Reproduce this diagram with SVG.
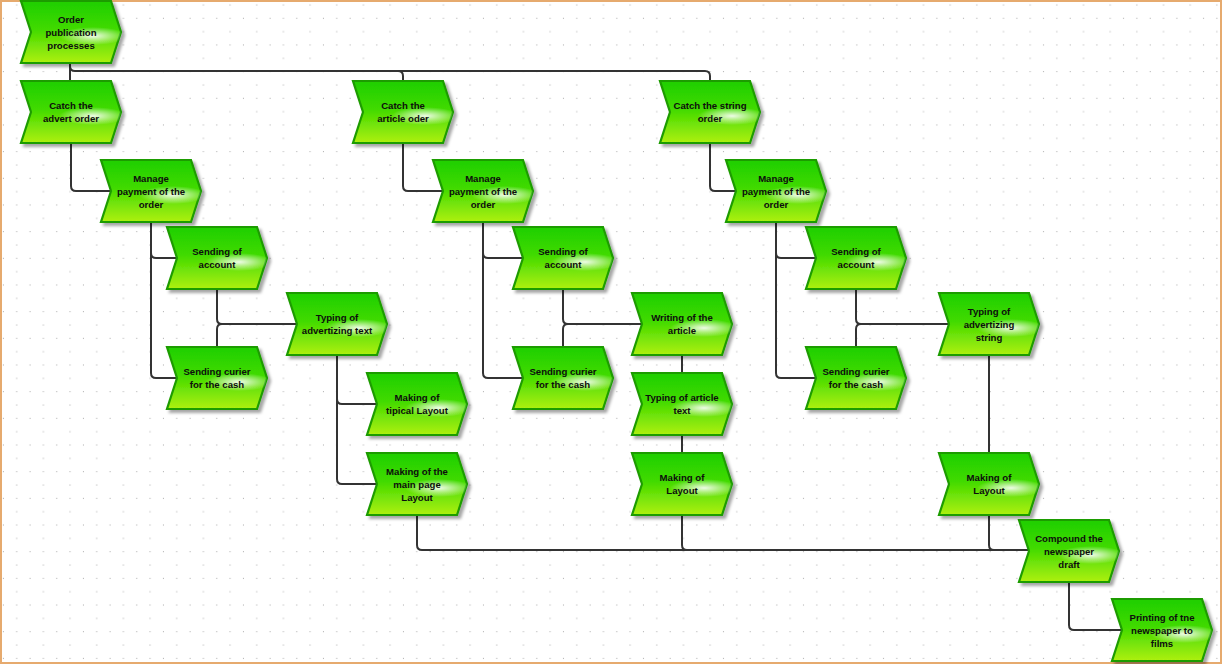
<svg xmlns="http://www.w3.org/2000/svg" xmlns:xlink="http://www.w3.org/1999/xlink" width="1222" height="664" viewBox="0 0 1222 664">
<style>
.shape{fill:url(#gfill);stroke:#1f9c00;stroke-width:2.2;stroke-linejoin:miter;filter:url(#sh)}
.gloss{fill:url(#ggloss)}
.lbl{font-family:"Liberation Sans",Arial,sans-serif;font-weight:bold;font-size:9.6px;fill:#0d0d0d;text-anchor:middle}
.con{fill:none;stroke:#333;stroke-width:2}
</style>
<defs>
<pattern id="grid" patternUnits="userSpaceOnUse" width="26.67" height="26.67">
<rect x="16.2" y="4.5" width="1" height="1" fill="#a8a8a8"/>
<rect x="2.9" y="17.8" width="1" height="1" fill="#a8a8a8"/>
<rect x="16.2" y="17.8" width="1" height="1" fill="#a8a8a8"/>
</pattern>
<linearGradient id="gfill" x1="0" y1="0" x2="0" y2="1">
<stop offset="0" stop-color="#1ecf00"/>
<stop offset="0.45" stop-color="#40da00"/>
<stop offset="1" stop-color="#aef012"/>
</linearGradient>
<radialGradient id="ggloss" cx="0.5" cy="0.5" r="0.5">
<stop offset="0" stop-color="#ffffff" stop-opacity="0.9"/>
<stop offset="0.5" stop-color="#ffffff" stop-opacity="0.45"/>
<stop offset="1" stop-color="#ffffff" stop-opacity="0"/>
</radialGradient>
<filter id="sh" x="-10%" y="-10%" width="130%" height="140%">
<feDropShadow dx="3" dy="3" stdDeviation="1.5" flood-color="#000" flood-opacity="0.35"/>
</filter>
<path id="chev" d="M0,0 H90 L100,31 L90,62 H0 L10,31 Z"/>
<clipPath id="cc"><path d="M0,0 H90 L100,31 L90,62 H0 L10,31 Z"/></clipPath>
</defs>
<rect width="1222" height="664" fill="#ffffff"/>
<rect width="1222" height="664" fill="url(#grid)"/>
<rect x="1" y="1" width="1220" height="662" fill="none" stroke="#e6aa6e" stroke-width="2"/>

<g id="connectors">
<path class="con" d="M70,63 V81"/>
<path class="con" d="M70,63 V66 Q70,71 75,71 H705 Q710,71 710,76 V81"/>
<path class="con" d="M398,71 Q403,71 403,76 V81"/>
<path class="con" d="M71,143 V186 Q71,191 76,191 H111"/>
<path class="con" d="M151,222 V253 Q151,258 156,258 H177"/>
<path class="con" d="M151,253 V373 Q151,378 156,378 H177"/>
<path class="con" d="M217,289 V319 Q217,324 222,324 H297"/>
<path class="con" d="M217,347 V329 Q217,324 222,324"/>
<path class="con" d="M337,355 V399 Q337,404 342,404 H377"/>
<path class="con" d="M337,399 V479 Q337,484 342,484 H377"/>
<path class="con" d="M417,515 V545 Q417,550 422,550 H1029"/>
<path class="con" d="M403,143 V186 Q403,191 408,191 H443"/>
<path class="con" d="M483,222 V253 Q483,258 488,258 H523"/>
<path class="con" d="M483,253 V373 Q483,378 488,378 H523"/>
<path class="con" d="M563,289 V319 Q563,324 568,324 H642"/>
<path class="con" d="M563,347 V329 Q563,324 568,324"/>
<path class="con" d="M682,355 V373"/>
<path class="con" d="M682,435 V453"/>
<path class="con" d="M682,515 V545 Q682,550 687,550"/>
<path class="con" d="M710,143 V186 Q710,191 715,191 H736"/>
<path class="con" d="M776,222 V253 Q776,258 781,258 H816"/>
<path class="con" d="M776,253 V373 Q776,378 781,378 H816"/>
<path class="con" d="M856,289 V319 Q856,324 861,324 H949"/>
<path class="con" d="M856,347 V329 Q856,324 861,324"/>
<path class="con" d="M989,355 V453"/>
<path class="con" d="M989,515 V545 Q989,550 994,550"/>
<path class="con" d="M1069,582 V625 Q1069,630 1074,630 H1122"/>
</g>

<g id="n1" transform="translate(21,1)"><use xlink:href="#chev" class="shape"/><ellipse class="gloss" cx="72" cy="35" rx="34" ry="9" clip-path="url(#cc)"/><text class="lbl"><tspan x="50" y="22">Order</tspan><tspan x="50" y="35">publication</tspan><tspan x="50" y="48">processes</tspan></text></g>
<g id="n2" transform="translate(21,81)"><use xlink:href="#chev" class="shape"/><ellipse class="gloss" cx="72" cy="35" rx="34" ry="9" clip-path="url(#cc)"/><text class="lbl"><tspan x="50" y="28">Catch the</tspan><tspan x="50" y="41">advert order</tspan></text></g>
<g id="n3" transform="translate(353,81)"><use xlink:href="#chev" class="shape"/><ellipse class="gloss" cx="72" cy="35" rx="34" ry="9" clip-path="url(#cc)"/><text class="lbl"><tspan x="50" y="28">Catch the</tspan><tspan x="50" y="41">article oder</tspan></text></g>
<g id="n4" transform="translate(660,81)"><use xlink:href="#chev" class="shape"/><ellipse class="gloss" cx="72" cy="35" rx="34" ry="9" clip-path="url(#cc)"/><text class="lbl"><tspan x="50" y="28">Catch the string</tspan><tspan x="50" y="41">order</tspan></text></g>
<g id="n5" transform="translate(101,160)"><use xlink:href="#chev" class="shape"/><ellipse class="gloss" cx="72" cy="35" rx="34" ry="9" clip-path="url(#cc)"/><text class="lbl"><tspan x="50" y="22">Manage</tspan><tspan x="50" y="35">payment of the</tspan><tspan x="50" y="48">order</tspan></text></g>
<g id="n6" transform="translate(167,227)"><use xlink:href="#chev" class="shape"/><ellipse class="gloss" cx="72" cy="35" rx="34" ry="9" clip-path="url(#cc)"/><text class="lbl"><tspan x="50" y="28">Sending of</tspan><tspan x="50" y="41">account</tspan></text></g>
<g id="n7" transform="translate(167,347)"><use xlink:href="#chev" class="shape"/><ellipse class="gloss" cx="72" cy="35" rx="34" ry="9" clip-path="url(#cc)"/><text class="lbl"><tspan x="50" y="28">Sending curier</tspan><tspan x="50" y="41">for the cash</tspan></text></g>
<g id="n8" transform="translate(287,293)"><use xlink:href="#chev" class="shape"/><ellipse class="gloss" cx="72" cy="35" rx="34" ry="9" clip-path="url(#cc)"/><text class="lbl"><tspan x="50" y="28">Typing of</tspan><tspan x="50" y="41">advertizing text</tspan></text></g>
<g id="n9" transform="translate(367,373)"><use xlink:href="#chev" class="shape"/><ellipse class="gloss" cx="72" cy="35" rx="34" ry="9" clip-path="url(#cc)"/><text class="lbl"><tspan x="50" y="28">Making of</tspan><tspan x="50" y="41">tipical Layout</tspan></text></g>
<g id="n10" transform="translate(367,453)"><use xlink:href="#chev" class="shape"/><ellipse class="gloss" cx="72" cy="35" rx="34" ry="9" clip-path="url(#cc)"/><text class="lbl"><tspan x="50" y="22">Making of the</tspan><tspan x="50" y="35">main page</tspan><tspan x="50" y="48">Layout</tspan></text></g>
<g id="n11" transform="translate(433,160)"><use xlink:href="#chev" class="shape"/><ellipse class="gloss" cx="72" cy="35" rx="34" ry="9" clip-path="url(#cc)"/><text class="lbl"><tspan x="50" y="22">Manage</tspan><tspan x="50" y="35">payment of the</tspan><tspan x="50" y="48">order</tspan></text></g>
<g id="n12" transform="translate(513,227)"><use xlink:href="#chev" class="shape"/><ellipse class="gloss" cx="72" cy="35" rx="34" ry="9" clip-path="url(#cc)"/><text class="lbl"><tspan x="50" y="28">Sending of</tspan><tspan x="50" y="41">account</tspan></text></g>
<g id="n13" transform="translate(513,347)"><use xlink:href="#chev" class="shape"/><ellipse class="gloss" cx="72" cy="35" rx="34" ry="9" clip-path="url(#cc)"/><text class="lbl"><tspan x="50" y="28">Sending curier</tspan><tspan x="50" y="41">for the cash</tspan></text></g>
<g id="n14" transform="translate(632,293)"><use xlink:href="#chev" class="shape"/><ellipse class="gloss" cx="72" cy="35" rx="34" ry="9" clip-path="url(#cc)"/><text class="lbl"><tspan x="50" y="28">Writing of the</tspan><tspan x="50" y="41">article</tspan></text></g>
<g id="n15" transform="translate(632,373)"><use xlink:href="#chev" class="shape"/><ellipse class="gloss" cx="72" cy="35" rx="34" ry="9" clip-path="url(#cc)"/><text class="lbl"><tspan x="50" y="28">Typing of article</tspan><tspan x="50" y="41">text</tspan></text></g>
<g id="n16" transform="translate(632,453)"><use xlink:href="#chev" class="shape"/><ellipse class="gloss" cx="72" cy="35" rx="34" ry="9" clip-path="url(#cc)"/><text class="lbl"><tspan x="50" y="28">Making of</tspan><tspan x="50" y="41">Layout</tspan></text></g>
<g id="n17" transform="translate(726,160)"><use xlink:href="#chev" class="shape"/><ellipse class="gloss" cx="72" cy="35" rx="34" ry="9" clip-path="url(#cc)"/><text class="lbl"><tspan x="50" y="22">Manage</tspan><tspan x="50" y="35">payment of the</tspan><tspan x="50" y="48">order</tspan></text></g>
<g id="n18" transform="translate(806,227)"><use xlink:href="#chev" class="shape"/><ellipse class="gloss" cx="72" cy="35" rx="34" ry="9" clip-path="url(#cc)"/><text class="lbl"><tspan x="50" y="28">Sending of</tspan><tspan x="50" y="41">account</tspan></text></g>
<g id="n19" transform="translate(806,347)"><use xlink:href="#chev" class="shape"/><ellipse class="gloss" cx="72" cy="35" rx="34" ry="9" clip-path="url(#cc)"/><text class="lbl"><tspan x="50" y="28">Sending curier</tspan><tspan x="50" y="41">for the cash</tspan></text></g>
<g id="n20" transform="translate(939,293)"><use xlink:href="#chev" class="shape"/><ellipse class="gloss" cx="72" cy="35" rx="34" ry="9" clip-path="url(#cc)"/><text class="lbl"><tspan x="50" y="22">Typing of</tspan><tspan x="50" y="35">advertizing</tspan><tspan x="50" y="48">string</tspan></text></g>
<g id="n21" transform="translate(939,453)"><use xlink:href="#chev" class="shape"/><ellipse class="gloss" cx="72" cy="35" rx="34" ry="9" clip-path="url(#cc)"/><text class="lbl"><tspan x="50" y="28">Making of</tspan><tspan x="50" y="41">Layout</tspan></text></g>
<g id="n22" transform="translate(1019,520)"><use xlink:href="#chev" class="shape"/><ellipse class="gloss" cx="72" cy="35" rx="34" ry="9" clip-path="url(#cc)"/><text class="lbl"><tspan x="50" y="22">Compound the</tspan><tspan x="50" y="35">newspaper</tspan><tspan x="50" y="48">draft</tspan></text></g>
<g id="n23" transform="translate(1112,599)"><use xlink:href="#chev" class="shape"/><ellipse class="gloss" cx="72" cy="35" rx="34" ry="9" clip-path="url(#cc)"/><text class="lbl"><tspan x="50" y="22">Printing of tne</tspan><tspan x="50" y="35">newspaper to</tspan><tspan x="50" y="48">films</tspan></text></g>
</svg>
